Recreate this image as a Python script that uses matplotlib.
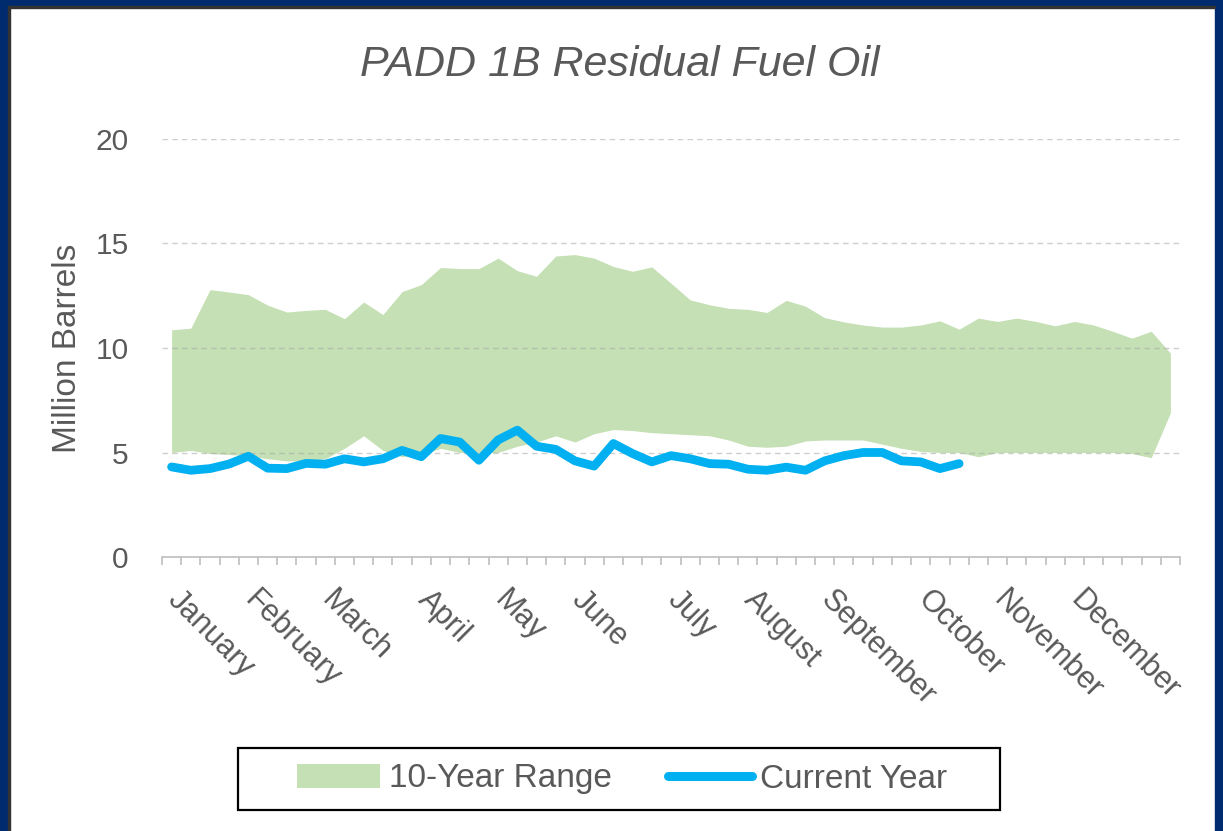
import matplotlib
matplotlib.use("Agg")
import matplotlib.pyplot as plt
from matplotlib.patches import Rectangle, Patch
from matplotlib.lines import Line2D
import numpy as np

plt.rcParams['font.family'] = ['Liberation Sans', 'DejaVu Sans']

# weekly data, 53 weeks
range_high = [10.87, 10.95, 12.79, 12.68, 12.55, 12.05, 11.72, 11.8, 11.85, 11.4,
              12.2, 11.6, 12.7, 13.03, 13.85, 13.8, 13.8, 14.3, 13.7, 13.43,
              14.4, 14.47, 14.3, 13.9, 13.67, 13.88, 13.1, 12.3, 12.07, 11.9,
              11.85, 11.7, 12.28, 12.0, 11.45, 11.25, 11.1, 11.0, 11.0, 11.1,
              11.3, 10.9, 11.43, 11.27, 11.43, 11.27, 11.06, 11.27, 11.1, 10.8,
              10.47, 10.8, 9.75]
range_low = [5.0, 5.1, 4.95, 4.9, 4.85, 4.7, 4.6, 4.6, 4.7, 5.2,
             5.8, 5.1, 4.8, 4.9, 5.2, 5.0, 5.0, 5.0, 5.3, 5.5,
             5.8, 5.5, 5.9, 6.1, 6.05, 5.95, 5.9, 5.85, 5.8, 5.6,
             5.3, 5.25, 5.3, 5.55, 5.6, 5.6, 5.6, 5.4, 5.2, 5.05,
             5.0, 5.0, 4.8, 5.0, 5.0, 5.0, 5.0, 5.0, 5.0, 5.0,
             4.95, 4.75, 6.9]
current_year = [4.31, 4.15, 4.23, 4.45, 4.82, 4.25, 4.23, 4.48, 4.44, 4.7,
                4.55, 4.7, 5.1, 4.8, 5.67, 5.5, 4.63, 5.6, 6.07, 5.3,
                5.15, 4.6, 4.35, 5.43, 4.95, 4.55, 4.85, 4.7, 4.47, 4.44,
                4.2, 4.15, 4.3, 4.15, 4.6, 4.85, 5.0, 5.0, 4.6, 4.55,
                4.23, 4.47]

month_names = ['January', 'February', 'March', 'April', 'May', 'June', 'July',
               'August', 'September', 'October', 'November', 'December']
month_week = [0, 4, 8, 13, 17, 21, 26, 30, 34, 39, 43, 47]

green = '#c5e0b4'
blue = '#00b0f0'
grey_text = '#595959'

W, H = 1223, 831
fig = plt.figure(figsize=(W / 100, H / 100), dpi=100)
fig.patch.set_facecolor('white')

ax = fig.add_axes([162 / W, 1 - 557 / H, (1180 - 162) / W, (557 - 139) / H])

weeks = np.arange(len(range_high))
ax.fill_between(weeks, range_low, range_high, color=green, lw=0, zorder=1)
ax.plot(np.arange(len(current_year)), current_year, color=blue, lw=6.3,
        solid_capstyle='round', solid_joinstyle='round', zorder=3)

ax.set_xlim(-0.5, len(weeks) - 0.5)
ax.set_ylim(0, 20)
ax.set_yticks([0, 5, 10, 15, 20])
ax.set_axisbelow(False)
ax.yaxis.grid(True, linestyle=(0, (4, 3)), color='#a6a6a6', alpha=0.55, lw=1)

for s in ['top', 'right', 'left']:
    ax.spines[s].set_visible(False)
ax.spines['bottom'].set_color('#bfbfbf')
ax.spines['bottom'].set_linewidth(1.2)
ax.spines['bottom'].set_zorder(4)

# tick marks between categories, month names at first week of month
bounds = np.arange(len(weeks) + 1) - 0.5
labels = [''] * len(bounds)
for name, wk in zip(month_names, month_week):
    labels[wk] = name
ax.set_xticks(bounds)
ax.set_xticklabels(labels, rotation=-45, ha='left', va='top',
                   fontsize=22, color=grey_text)
ax.tick_params(axis='x', direction='out', length=6, width=1.2,
               color='#bfbfbf', pad=14)
ax.tick_params(axis='y', length=0, pad=24, labelsize=21.5, labelcolor=grey_text)

fig.text(0.507, 1 - 65 / H, 'PADD 1B Residual Fuel Oil', ha='center',
         va='center', fontsize=31, style='italic', color=grey_text)
fig.text(68 / W, 1 - 348 / H, 'Million Barrels', rotation=90, ha='center',
         va='center', fontsize=24, color=grey_text)

# legend box
fig.patches.append(Rectangle((238 / W, 1 - 810 / H), (1000 - 238) / W,
                             62 / H, transform=fig.transFigure,
                             fill=False, edgecolor='black', lw=1.6))
handles = [Patch(facecolor=green, edgecolor='none'),
           Line2D([0], [0], color=blue, lw=6.5, solid_capstyle='round')]
fig.legend(handles, ['10-Year Range', 'Current Year'], loc='center',
           bbox_to_anchor=(622 / W, 1 - 779 / H), ncol=2, frameon=False,
           fontsize=24, handlelength=2.5, handleheight=0.7,
           handletextpad=0.25, columnspacing=1.7, labelcolor=grey_text)

# dark blue frame round the picture
navy = '#002b6e'
for rect in [(0, 0, 8 / W, 1), (0, 1 - 6 / H, 1, 6 / H), (1 - 8 / W, 0, 8 / W, 1)]:
    fig.patches.append(Rectangle(rect[:2], rect[2], rect[3],
                                 transform=fig.transFigure, color=navy, zorder=10))
fig.patches.append(Rectangle((8 / W, 0), 1.5 / W, 1 - 6 / H,
                             transform=fig.transFigure, color='#333333', zorder=10))
fig.patches.append(Rectangle((8 / W, 1 - 7.5 / H), 1 - 16 / W, 1.5 / H,
                             transform=fig.transFigure, color='#333333', zorder=10))

fig.savefig('out.png', dpi=100)
